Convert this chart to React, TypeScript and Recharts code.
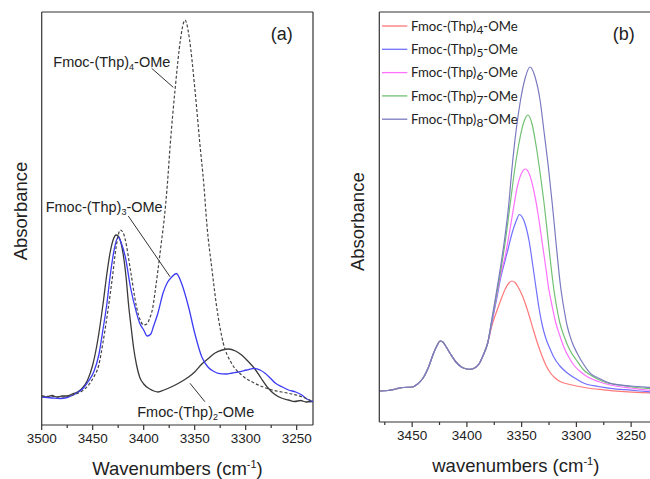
import React from 'react';
import { LineChart, Line, XAxis, YAxis, ReferenceLine, ReferenceDot, Legend } from 'recharts';

type Pt = [number, number];

// panel (a): [wavenumber cm-1, absorbance (arb.)]
const aThp2: Pt[] = [
  [3500, 29], [3495, 28], [3490, 29.5], [3485, 28], [3480, 29], [3475, 29], [3470, 31], [3465, 33],
  [3460, 37], [3455, 45], [3450, 60], [3445, 85], [3440, 120], [3436, 152], [3433, 172], [3430, 185],
  [3427, 190], [3425, 189], [3422, 181], [3420, 170], [3417, 145], [3415, 122], [3412, 95], [3410, 78],
  [3407, 60], [3404, 48], [3400, 41], [3394, 36], [3390, 34], [3386, 33], [3380, 35], [3371, 39],
  [3362, 44], [3356, 48], [3350, 53], [3343, 61], [3336, 67], [3330, 72], [3323, 75], [3317, 76],
  [3310, 74], [3304, 70], [3298, 64], [3291, 56], [3285, 47], [3278, 37], [3272, 31], [3265, 27],
  [3258, 25], [3252, 23.5], [3246, 24.5], [3241, 23], [3234, 23.5],
];
const aThp3: Pt[] = [
  [3500, 28], [3490, 27], [3482, 26.5], [3475, 27.5], [3469, 30], [3464, 33], [3459, 37], [3454, 44],
  [3449, 53], [3444, 70], [3440, 95], [3436, 122], [3433, 148], [3429, 175], [3425, 188], [3422, 182],
  [3418, 168], [3413, 138], [3407, 112], [3404, 102], [3400, 95], [3396.5, 89], [3393, 91], [3390.6, 98],
  [3386, 112], [3381, 132], [3377, 142], [3372.5, 148], [3368, 151.5], [3363, 142], [3356, 118], [3350, 92],
  [3343, 68], [3337, 58], [3332, 54], [3327, 51.7], [3319, 51], [3313, 52], [3307, 53], [3299, 55],
  [3291, 56.7], [3286, 55], [3281, 51.7], [3276, 47], [3271, 42], [3264, 38], [3258, 35], [3251, 33],
  [3245, 30], [3240, 26], [3234, 23.3],
];
const aThp4: Pt[] = [
  [3500, 29], [3490, 28.5], [3480, 28], [3470, 30], [3465, 31.5], [3459, 35], [3454, 40], [3449, 48],
  [3444, 60], [3440, 82], [3435, 115], [3431, 145], [3427, 178], [3423, 195], [3420, 192], [3418, 185],
  [3413, 155], [3407, 118], [3403, 104], [3400, 100], [3397, 101], [3394, 107], [3391, 118], [3389, 132],
  [3386, 155], [3383, 180], [3380, 205], [3377, 238], [3374, 280], [3369, 338], [3364, 385], [3361, 402],
  [3359.5, 405], [3358, 402], [3355, 385], [3350, 338], [3345, 282], [3341, 240], [3338, 200], [3333, 155],
  [3328, 115], [3322, 82], [3314, 62], [3304, 50], [3291, 41.7], [3274, 35], [3258, 31.7], [3245, 28.3],
  [3234, 23.3],
];

// panel (b): shared low-wavenumber part, then one peak per oligomer
const bBase: Pt[] = [
  [3480, 31], [3472, 31.5], [3465, 33], [3458, 34.5], [3450, 35], [3445, 38], [3440, 44], [3435, 55],
  [3430, 70], [3427, 77], [3424.5, 81], [3422, 80], [3420, 77], [3415, 68], [3410, 60], [3405, 55],
  [3400, 53], [3397, 52.7], [3393, 54], [3389, 58], [3385, 67], [3381, 79],
];
const bThp4: Pt[] = [
  [3377, 97], [3373, 110], [3369, 122], [3365, 133], [3362, 138.5], [3359, 141], [3356, 139.5], [3353, 134.5],
  [3350, 128], [3346.5, 118], [3343, 106], [3339, 91], [3335, 77], [3331, 65], [3327.5, 56], [3324, 49.5],
  [3320, 44.5], [3315, 40.5], [3308, 38], [3300, 36], [3290, 34], [3275, 32.2], [3260, 30.7], [3245, 29.7],
  [3225, 29],
];
const bThp5: Pt[] = [
  [3377, 100], [3373, 122], [3369, 145], [3365, 162], [3362.6, 172], [3358.7, 189], [3355, 201], [3352, 207.5],
  [3349, 204], [3346, 195], [3343, 180], [3340, 158], [3337, 135], [3334, 113], [3331, 96], [3328, 84],
  [3324, 73], [3320.7, 65], [3315, 56], [3308, 48.7], [3300, 43], [3293, 38.7], [3280, 35.5], [3269, 33.7],
  [3250, 31.8], [3235, 30.3], [3225, 30],
];
const bThp6: Pt[] = [
  [3377, 102], [3373, 125], [3369, 148], [3365, 166], [3361.8, 185], [3358, 210], [3354, 235], [3350, 249],
  [3346.5, 253], [3343, 248], [3339, 232], [3335, 208], [3331.3, 180], [3328, 155], [3325.2, 133], [3322, 115],
  [3319, 100], [3315, 86], [3311.6, 75.3], [3307, 65], [3302.4, 57], [3296, 50], [3290, 45.3], [3280, 40.5],
  [3269, 37], [3250, 34], [3235, 32], [3225, 31.5],
];
const bThp7: Pt[] = [
  [3377, 103], [3373, 127], [3369, 152], [3365, 180], [3360, 222], [3356, 255], [3352.4, 279], [3348, 300],
  [3344.3, 307], [3340.5, 298], [3336.6, 275], [3333, 248], [3329, 214], [3326, 184], [3323, 154], [3320.5, 132],
  [3318, 115], [3315.3, 100], [3311, 85], [3306, 72], [3300, 62], [3293.3, 52], [3285, 45.5], [3275, 40.3],
  [3260, 37], [3245, 34.5], [3235, 33.7], [3225, 33],
];
const bThp8: Pt[] = [
  [3377, 104], [3373, 130], [3369, 157], [3364.8, 189], [3362, 215], [3358.7, 255], [3355, 292], [3351, 322],
  [3347, 343], [3342.3, 355], [3338, 346], [3333.2, 322], [3329.5, 290], [3325.6, 255], [3322, 218], [3319, 184],
  [3314.5, 136], [3311, 111], [3308.4, 96], [3304, 80], [3299.3, 68.7], [3293, 57], [3287.2, 48.7], [3278, 43],
  [3269, 38.7], [3250, 36], [3235, 34.7], [3225, 34],
];

const aMajor = [3500, 3450, 3400, 3350, 3300, 3250];
const aMinor = [3475, 3425, 3375, 3325, 3275];
const bMajor = [3450, 3400, 3350, 3300, 3250];
const bMinor = [3475, 3425, 3375, 3325, 3275];

const bSeries = [
  { n: 4, pts: bThp4, color: '#ff7878' },
  { n: 5, pts: bThp5, color: '#7070ff' },
  { n: 6, pts: bThp6, color: '#ff70ff' },
  { n: 7, pts: bThp7, color: '#72c072' },
  { n: 8, pts: bThp8, color: '#7a7ac0' },
];

// annotation placement for panel (a), in data units
const aNotes = [
  { n: 4, wn: 3488.6, abs: 358.3 },
  { n: 3, wn: 3496.1, abs: 212.7 },
  { n: 2, wn: 3406.3, abs: 8.3 },
];
const aLeaders: [Pt, Pt][] = [
  [[3392.2, 356.7], [3371, 337.7]],
  [[3415.1, 209], [3374.2, 148.3]],
  [[3354.6, 41.7], [3340, 23.3]],
];

const FONT = '"Liberation Sans", Arial, sans-serif';
const AXIS = '#333';

const toPoints = (pts: Pt[]) => pts.map(([wn, abs]) => ({ wn, abs }));

const AxisTick = ({ x, y, payload, majors }: any) => {
  const major = majors.includes(payload.value);
  return (
    <g>
      <line x1={x} x2={x} y1={y} y2={y + (major ? 5 : 3)} stroke={AXIS} strokeWidth={1.2} />
      {major && (
        <text x={x} y={y + 18} textAnchor="middle" fontSize={13.5} fontFamily={FONT} fill="#222">
          {payload.value}
        </text>
      )}
    </g>
  );
};

const XTitle = ({ cx, baseline, lead }: any) => (
  <text x={cx} y={baseline} textAnchor="middle" fontSize={18.5} fontFamily={FONT} fill="#222">
    {lead} (cm
    <tspan fontSize={11} dy={-7}>-1</tspan>
    <tspan dy={7}>)</tspan>
  </text>
);

const YTitle = ({ cx, cy }: any) => (
  <text
    x={cx}
    y={cy}
    transform={`rotate(-90 ${cx} ${cy})`}
    textAnchor="middle"
    dominantBaseline="central"
    fontSize={18.5}
    fontFamily={FONT}
    fill="#222"
  >
    Absorbance
  </text>
);

const Formula = ({ viewBox, n }: any) => (
  <text x={viewBox.x + 1} y={viewBox.y + 1} fontSize={14.5} fontFamily={FONT} fill="#222">
    Fmoc-(Thp)
    <tspan fontSize={9} dy={3}>{n}</tspan>
    <tspan dy={-3}>-OMe</tspan>
  </text>
);

const Tag = ({ viewBox, text }: any) => (
  <text x={viewBox.x + 1} y={viewBox.y + 1} textAnchor="middle" fontSize={18} fontFamily={FONT} fill="#222">
    {text}
  </text>
);

const LegendBox = ({ payload }: any) => (
  <svg width={150} height={120} style={{ display: 'block' }}>
    {(payload || []).map((entry: any, i: number) => {
      const y = 12 + i * 23.3;
      const n = String(entry.value).match(/\)(\d+)-/)?.[1];
      return (
        <g key={entry.value}>
          <line x1={0} x2={25.3} y1={y} y2={y} stroke={entry.color} strokeWidth={1.3} />
          <text x={29} y={y + 4.8} fontSize={13.2} fontFamily="Lato, sans-serif" fill="#222">
            Fmoc-(Thp)
            <tspan fontSize={12} dy={3}>{n}</tspan>
            <tspan dy={-3}>-OMe</tspan>
          </text>
        </g>
      );
    })}
  </svg>
);

const PanelA = () => (
  <LineChart width={330} height={479} margin={{ top: 12, right: 17, bottom: 0, left: 0 }}>
    <XAxis
      dataKey="wn"
      type="number"
      domain={[3234, 3500]}
      reversed
      allowDataOverflow
      ticks={[...aMajor, ...aMinor]}
      interval={0}
      tickSize={0}
      tickMargin={0}
      tickLine={false}
      tick={(p: any) => <AxisTick {...p} majors={aMajor} />}
      axisLine={{ stroke: AXIS, strokeWidth: 1.2 }}
      height={54}
      label={<XTitle cx={177.5} baseline={475} lead="Wavenumbers" />}
    />
    <YAxis
      type="number"
      domain={[0, 413]}
      allowDataOverflow
      width={41.7}
      tick={false}
      tickLine={false}
      axisLine={{ stroke: AXIS, strokeWidth: 1.2 }}
      label={<YTitle cx={20} cy={211} />}
    />
    <ReferenceLine y={413} stroke={AXIS} strokeWidth={1.2} ifOverflow="visible" />
    <ReferenceLine x={3234} stroke={AXIS} strokeWidth={1.2} ifOverflow="visible" />
    <Line data={toPoints(aThp2)} dataKey="abs" type="monotone" stroke="#3a3a3a" strokeWidth={1.3} dot={false} activeDot={false} isAnimationActive={false} />
    <Line data={toPoints(aThp3)} dataKey="abs" type="monotone" stroke="#3c3cf5" strokeWidth={1.3} dot={false} activeDot={false} isAnimationActive={false} />
    <Line data={toPoints(aThp4)} dataKey="abs" type="monotone" stroke="#444" strokeWidth={1.2} strokeDasharray="3 2" dot={false} activeDot={false} isAnimationActive={false} />
    {aLeaders.map(([p, q], i) => (
      <ReferenceLine key={i} segment={[{ x: p[0], y: p[1] }, { x: q[0], y: q[1] }]} stroke="#333" strokeWidth={1} />
    ))}
    {aNotes.map((a) => (
      <ReferenceDot key={a.n} x={a.wn} y={a.abs} r={1} fill="none" stroke="none" label={<Formula n={a.n} />} />
    ))}
    <ReferenceDot x={3264.7} y={385.5} r={1} fill="none" stroke="none" label={<Tag text="(a)" />} />
  </LineChart>
);

const PanelB = () => (
  <LineChart width={329} height={479} margin={{ top: 12, right: 0.5, bottom: 0, left: 0 }}>
    <XAxis
      dataKey="wn"
      type="number"
      domain={[3225, 3480]}
      reversed
      allowDataOverflow
      ticks={[...bMajor, ...bMinor]}
      interval={0}
      tickSize={0}
      tickMargin={0}
      tickLine={false}
      tick={(p: any) => <AxisTick {...p} majors={bMajor} />}
      axisLine={{ stroke: AXIS, strokeWidth: 1.2 }}
      height={57}
      label={<XTitle cx={185.8} baseline={471.7} lead="wavenumbers" />}
    />
    <YAxis
      type="number"
      domain={[0, 410]}
      allowDataOverflow
      width={49.3}
      tick={false}
      tickLine={false}
      axisLine={{ stroke: AXIS, strokeWidth: 1.2 }}
      label={<YTitle cx={28} cy={221.7} />}
    />
    <ReferenceLine y={410} stroke={AXIS} strokeWidth={1.2} ifOverflow="visible" />
    {bSeries.map((s) => (
      <Line
        key={s.n}
        name={`Fmoc-(Thp)${s.n}-OMe`}
        data={toPoints([...bBase, ...s.pts])}
        dataKey="abs"
        type="monotone"
        stroke={s.color}
        strokeWidth={1.2}
        dot={false}
        activeDot={false}
        isAnimationActive={false}
      />
    ))}
    <ReferenceDot x={3256.8} y={382.5} r={1} fill="none" stroke="none" label={<Tag text="(b)" />} />
    <Legend
      layout="vertical"
      align="center"
      verticalAlign="middle"
      content={<LegendBox />}
      wrapperStyle={{ left: 51.7, top: 14, width: 150 }}
    />
  </LineChart>
);

export default function App() {
  return (
    <div style={{ position: 'absolute', left: 0, top: 0, width: 650, height: 479, overflow: 'hidden', background: '#fff' }}>
      <div style={{ position: 'absolute', left: 0, top: 0 }}>
        <PanelA />
      </div>
      <div style={{ position: 'absolute', left: 330, top: 0 }}>
        <PanelB />
      </div>
    </div>
  );
}
